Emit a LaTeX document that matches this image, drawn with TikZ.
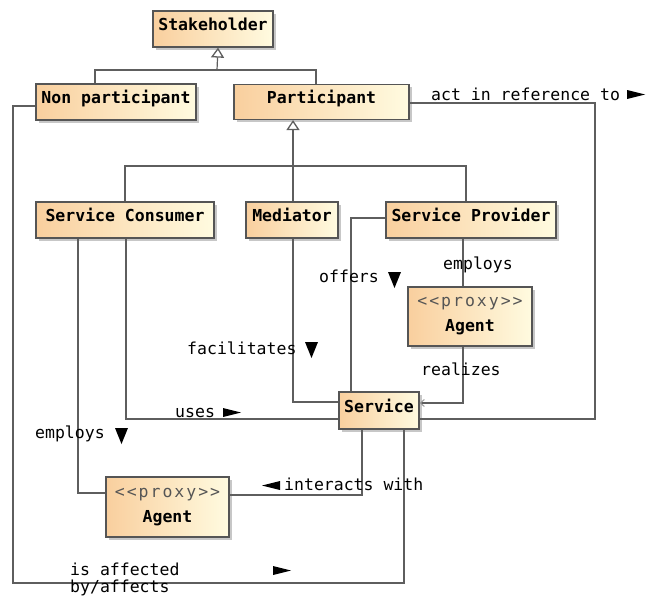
\documentclass[tikz,border=0pt]{standalone}
\usepackage{fontspec}
\usetikzlibrary{arrows.meta,shadows}
\newfontfamily\dm{DejaVu Sans Mono}
\newfontfamily\dmproxy[LetterSpace=12]{DejaVu Sans Mono}

\definecolor{boxL}{HTML}{F9CF9E}
\definecolor{boxR}{HTML}{FFFBE0}
\definecolor{boxline}{HTML}{555555}
\definecolor{wire}{HTML}{5E5E5E}
\definecolor{tipgray}{HTML}{9A9A9A}

% filled direction markers next to association names
\newcommand\rtri[2]{\fill (#1,#2) -- ++(18,-4.5) -- ++(-18,-4.5) -- cycle;}
\newcommand\ltri[2]{\fill (#1,#2) -- ++(0,-9) -- ++(-18,4.5) -- cycle;}
\newcommand\dtri[2]{\fill (#1,#2) -- ++(13,0) -- ++(-6.5,16) -- cycle;}

\tikzset{
  clsbase/.style={draw=boxline, line width=1.2pt, left color=boxL, right color=boxR,
    drop shadow={shadow xshift=2.5pt, shadow yshift=-2.5pt, fill=black, opacity=0.22},
    font=\fontsize{16.5}{19}\dm\bfseries, inner sep=0pt, align=center},
  cls/.style={clsbase, text height=12pt, text depth=9pt},
  wireline/.style={draw=wire, line width=1.2pt},
  gen/.style={wireline, -{Triangle[open, length=10pt, width=13pt, line width=1.3pt]}},
  assoc/.style={font=\fontsize{16.5}{19}\dm, inner sep=0pt, anchor=base west},
}

\begin{document}
\begin{tikzpicture}[x=1pt, y=-1pt]
\useasboundingbox (0,0) rectangle (655,597);

% classes
\node[cls, minimum width=120pt, minimum height=36pt] (stake) at (213,29) {Stakeholder};
\node[cls, minimum width=160pt, minimum height=36pt] (nonp) at (116,102) {Non participant};
\node[cls, minimum width=175pt, minimum height=35pt] (part) at (321.5,102) {Participant};
\node[cls, minimum width=178pt, minimum height=36pt] (cons) at (125,220) {Service Consumer};
\node[cls, minimum width=92pt, minimum height=36pt] (med) at (292,220) {Mediator};
\node[cls, minimum width=170pt, minimum height=36pt] (prov) at (471,220) {Service Provider};
\node[cls, minimum width=80pt, minimum height=37pt] (serv) at (379,410.5) {Service};
\node[clsbase, minimum width=124pt, minimum height=59pt] (agentA) at (470,316.5)
  {{\mdseries\dmproxy\color{boxline}<<proxy>>}\\[6pt]Agent};
\node[clsbase, minimum width=123pt, minimum height=60pt] (agentB) at (167.5,507)
  {{\mdseries\dmproxy\color{boxline}<<proxy>>}\\[6pt]Agent};

% generalization tree under Stakeholder
\coordinate (jS) at (217,70);
\draw[wireline] (95,0 |- nonp.north) |- (316,70) -- (316,0 |- part.north);
\draw[gen] (jS) -- (stake.south -| 218,0);

% generalization tree under Participant
\coordinate (jP) at (293,166);
\draw[wireline] (cons.north) |- (466,166) -- (466,0 |- prov.north);
\draw[wireline] (med.north -| 293,0) -- (jP);
\draw[gen] (jP) -- (part.south -| 293,0);

% associations
\draw[wireline] (prov.south -| 463,0) -- (agentA.north -| 463,0);
\draw[wireline, -{Straight Barb[length=4pt, width=7pt, line width=1pt, color=tipgray]}]
  (agentA.south -| 463,0) |- (serv.east |- 0,403);
\draw[wireline] (prov.west |- 0,218) -| (serv.north -| 351,0);
\draw[wireline] (med.south -| 293,0) |- (serv.west |- 0,402);
\draw[wireline] (cons.south -| 126,0) |- (serv.west |- 0,419);
\draw[wireline] (cons.south -| 78,0) |- (agentB.west |- 0,493);
\draw[wireline] (agentB.east |- 0,495) -| (serv.south -| 362,0);
\draw[wireline] (nonp.west |- 0,106) -| (13,583) -| (serv.south -| 404,0);
\draw[wireline] (part.east |- 0,103) -| (595,419) -- (serv.east |- 0,419);

% association names
\node[assoc] (lRef) at (431,100) {act in reference to};
\rtri{627}{99}
\node[assoc] (lEmpA) at (443,269) {employs};
\node[assoc] (lOff) at (319,282) {offers};
\dtri{388}{272}
\node[assoc] (lReal) at (421,375) {realizes};
\node[assoc] (lFac) at (187,354) {facilitates};
\dtri{305}{342}
\node[assoc] (lUses) at (175,417) {uses};
\rtri{223}{417}
\node[assoc] (lEmpB) at (35,438) {employs};
\dtri{115}{428}
\node[assoc] (lInt) at (284,490) {interacts with};
\ltri{280}{490}
\node[assoc] (lAff) at (70,575) {is affected};
\node[assoc] (lAff2) at (70,592) {by/affects};
\rtri{273}{575}
\end{tikzpicture}
\end{document}
